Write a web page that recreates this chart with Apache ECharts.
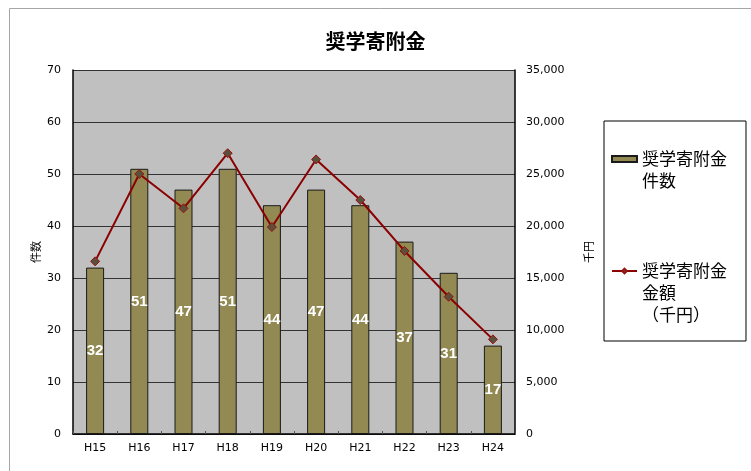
<!DOCTYPE html>
<html>
<head>
<meta charset="utf-8">
<script src="https://cdn.jsdelivr.net/npm/echarts@6/dist/echarts.min.js"></script>
<style>
  html, body { margin: 0; padding: 0; background: #fff; }
  #chart { width: 751px; height: 471px; }
</style>
</head>
<body>
<div id="chart"></div>
<script>
// Fiscal years (Heisei)
const categories = ['H15', 'H16', 'H17', 'H18', 'H19', 'H20', 'H21', 'H22', 'H23', 'H24'];
// Number of scholarship donations
const donationCounts = [32, 51, 47, 51, 44, 47, 44, 37, 31, 17];
// Donation amount, thousand yen
const donationAmounts = [16600, 25000, 21700, 27000, 19900, 26400, 22500, 17600, 13200, 9100];

const titleText = '奨学寄附金';
const seriesNames = ['奨学寄附金件数', '奨学寄附金金額（千円）'];
// Legend text, broken into lines; leading blank lines keep the first line level with the icon
const legendLabels = {
  '奨学寄附金件数': '\n奨学寄附金\n件数',
  '奨学寄附金金額（千円）': '\n\n奨学寄附金\n金額\n（千円）'
};
const leftAxisName = '件数';
const rightAxisName = '千円';

const tickFont = 'DejaVu Sans';
const cjkFont = 'Noto Sans CJK JP';

const chart = echarts.init(document.getElementById('chart'), null, { renderer: 'canvas' });

chart.setOption({
  backgroundColor: '#ffffff',
  animation: false,
  title: {
    text: titleText,
    left: 'center',
    top: 26,
    textStyle: { fontFamily: cjkFont, fontSize: 20, fontWeight: 'bold', color: '#000' }
  },
  graphic: [{
    type: 'rect',
    z: -1,
    silent: true,
    shape: { x: 9.5, y: 8.5, width: 800, height: 500 },
    style: { fill: 'none', stroke: '#a6a6a6', lineWidth: 1 }
  }],
  legend: {
    orient: 'vertical',
    left: 604,
    top: 121,
    padding: [5, 19, 15, 7],
    itemGap: 24,
    itemWidth: 25,
    itemHeight: 6,
    borderColor: '#000',
    borderWidth: 1,
    data: [{ name: seriesNames[0], icon: 'rect' }, { name: seriesNames[1] }],
    formatter: name => legendLabels[name],
    textStyle: { fontFamily: cjkFont, fontSize: 17, lineHeight: 22, color: '#000' }
  },
  grid: {
    left: 73,
    right: 236,
    top: 70,
    bottom: 37,
    show: true,
    backgroundColor: '#c0c0c0',
    borderWidth: 0
  },
  xAxis: {
    type: 'category',
    data: categories,
    axisLine: { lineStyle: { color: '#000', width: 1.5 } },
    axisTick: { show: true, inside: true, length: 3, lineStyle: { color: '#555' } },
    axisLabel: { margin: 9, fontFamily: tickFont, fontSize: 11, color: '#000' }
  },
  yAxis: [{
    type: 'value',
    min: 0,
    max: 70,
    interval: 10,
    name: leftAxisName,
    nameLocation: 'middle',
    nameRotate: 90,
    nameGap: 32,
    nameMoveOverlap: false,
    nameTextStyle: { fontFamily: cjkFont, fontSize: 11, color: '#000' },
    axisLine: { show: true, lineStyle: { color: '#000', width: 1.5 } },
    axisTick: { show: false },
    axisLabel: { margin: 12, fontFamily: tickFont, fontSize: 11, color: '#000' },
    splitLine: { show: true, lineStyle: { color: '#333', width: 1 } }
  }, {
    type: 'value',
    min: 0,
    max: 35000,
    interval: 5000,
    name: rightAxisName,
    nameLocation: 'middle',
    nameRotate: 90,
    nameGap: 68,
    nameMoveOverlap: false,
    nameTextStyle: { fontFamily: cjkFont, fontSize: 11, color: '#000' },
    axisLine: { show: true, lineStyle: { color: '#000', width: 1.5 } },
    axisTick: { show: false },
    axisLabel: {
      margin: 11,
      fontFamily: tickFont,
      fontSize: 11,
      color: '#000',
      formatter: v => v.toLocaleString('en-US')
    },
    splitLine: { show: false }
  }],
  series: [{
    name: seriesNames[0],
    type: 'bar',
    yAxisIndex: 0,
    data: donationCounts,
    barWidth: 18,
    itemStyle: { color: '#928a52', borderColor: '#1a1a1a', borderWidth: 1 },
    label: {
      show: true,
      position: 'inside',
      color: '#fff',
      fontFamily: 'Liberation Sans',
      fontWeight: 'bold',
      fontSize: 15
    },
    z: 2
  }, {
    name: seriesNames[1],
    type: 'line',
    yAxisIndex: 1,
    data: donationAmounts,
    symbol: 'diamond',
    symbolSize: 9,
    lineStyle: { color: '#8b0000', width: 2 },
    itemStyle: { color: '#5a4f3a', borderColor: '#9b0f0f', borderWidth: 1 },
    z: 3
  }]
});
</script>
</body>
</html>
